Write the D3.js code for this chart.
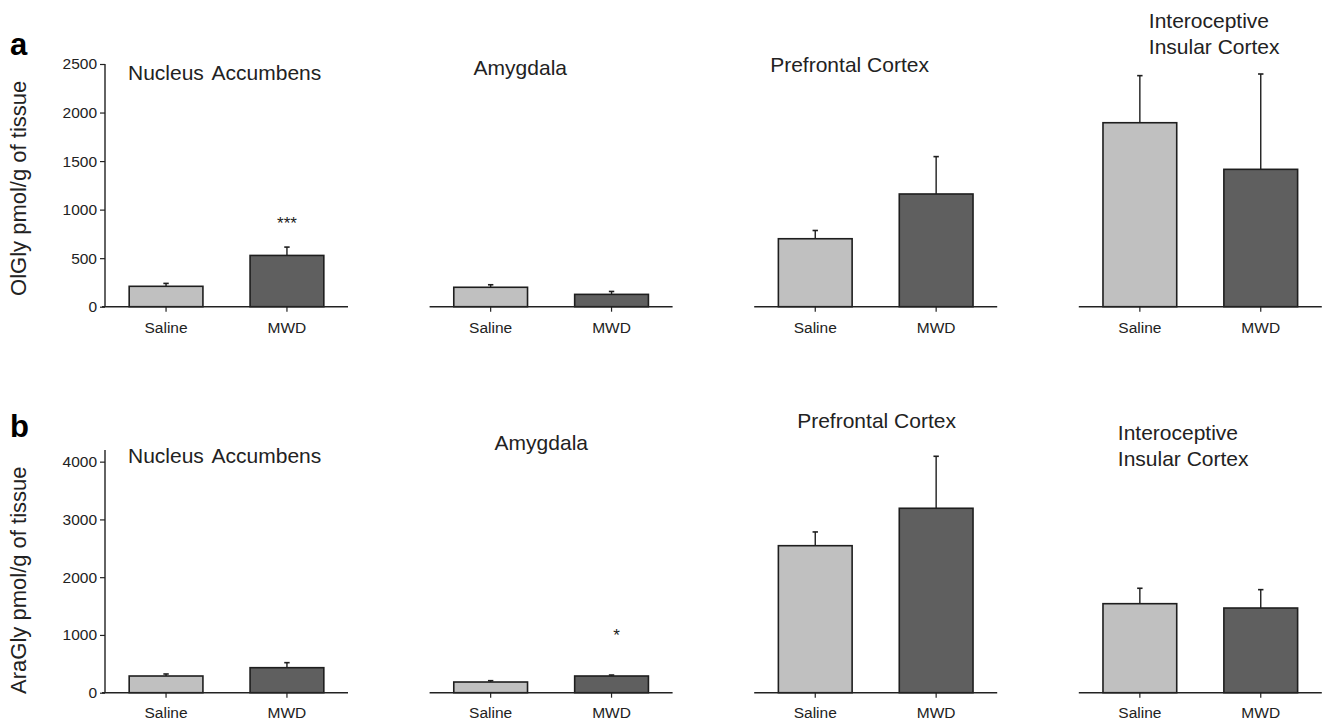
<!DOCTYPE html>
<html>
<head>
<meta charset="utf-8">
<script src="https://cdn.jsdelivr.net/npm/d3@7"></script>
<style>
  html, body { margin: 0; padding: 0; background: #fff; }
  svg { display: block; font-family: Arial, "Liberation Sans", sans-serif; }
</style>
</head>
<body>
<svg id="chart" width="1323" height="721"></svg>
<script>
// Brain regions and treatment groups
const regions = ["Nucleus Accumbens", "Amygdala", "Prefrontal Cortex", "Interoceptive Insular Cortex"];
const groups = ["Saline", "MWD"];

// Row a: OlGly (pmol/g of tissue), mean and SEM per region
const olgSalineMean = [210, 200, 700, 1895];
const olgSalineSem  = [30, 26, 85, 485];
const olgMwdMean    = [528, 127, 1161, 1415];
const olgMwdSem     = [86, 30, 385, 982];
const olgMarks      = ["***", "", "", ""];   // significance over MWD bar

// Row b: AraGly (pmol/g of tissue), mean and SEM per region
const araSalineMean = [289, 185, 2545, 1541];
const araSalineSem  = [35, 23, 238, 267];
const araMwdMean    = [433, 289, 3193, 1466];
const araMwdSem     = [87, 17, 900, 318];
const araMarks      = ["", "*", "", ""];

// Axis ticks
const olgTicks = [0, 500, 1000, 1500, 2000, 2500];
const araTicks = [0, 1000, 2000, 3000, 4000];

// ---- layout ----
const svg = d3.select("#chart");
const panelX0 = 105, panelStep = 324.6, panelW = 243;
const colors = { Saline: "#c0c0c0", MWD: "#5f5f5f" };
const strokeCol = "#1e1e1e";

const rows = [
  {
    letter: "a", letterY: 55,
    yLabel: "OlGly pmol/g of tissue",
    domain: [0, 2500], range: [306.7, 64], ticks: olgTicks,
    saline: olgSalineMean, salineSem: olgSalineSem,
    mwd: olgMwdMean, mwdSem: olgMwdSem, marks: olgMarks,
    // title placement per panel: x offset from panel start, first baseline
    titles: [[23, 80], [44, 75], [16, 72], [70, 28]],
    markY: [229, 0, 0, 0], markDx: [0, 0, 0, 0],
    labelY: 333
  },
  {
    letter: "b", letterY: 437,
    yLabel: "AraGly pmol/g of tissue",
    domain: [0, 4200], range: [692.7, 450.1], ticks: araTicks,
    saline: araSalineMean, salineSem: araSalineSem,
    mwd: araMwdMean, mwdSem: araMwdSem, marks: araMarks,
    titles: [[23, 463], [65, 450], [43, 428], [39, 440]],
    markY: [0, 641, 0, 0], markDx: [0, 5, 0, 0],
    labelY: 718
  }
];

const titleLines = name => name === "Interoceptive Insular Cortex"
  ? ["Interoceptive", "Insular Cortex"] : [name];

rows.forEach(row => {
  const y = d3.scaleLinear().domain(row.domain).range(row.range);
  const base = y(0);

  // panel letter
  svg.append("text")
    .attr("x", 10).attr("y", row.letterY)
    .attr("font-size", 31).attr("font-weight", "bold").attr("fill", "#000")
    .text(row.letter);

  // y axis title
  const yMid = (y(0) + y(row.ticks[row.ticks.length - 1])) / 2 + 3;
  svg.append("text")
    .attr("transform", `translate(26,${yMid}) rotate(-90)`)
    .attr("text-anchor", "middle")
    .attr("font-size", 22).attr("fill", "#222")
    .text(row.yLabel);

  // y axis (first panel only)
  const yAxis = svg.append("g")
    .attr("transform", `translate(${panelX0},0)`)
    .call(d3.axisLeft(y).tickValues(row.ticks).tickSize(5).tickPadding(3).tickFormat(d3.format("d")));
  yAxis.select(".domain")
    .attr("d", `M0,${y(row.domain[1])}V${base}`)
    .attr("stroke", "#222").attr("stroke-width", 1.4);
  yAxis.selectAll(".tick line").attr("stroke", "#222").attr("stroke-width", 1.2);
  yAxis.selectAll(".tick text").attr("font-size", 15.5).attr("fill", "#222")
    .attr("font-family", "Arial, 'Liberation Sans', sans-serif");

  regions.forEach((reg, i) => {
    const px = panelX0 + i * panelStep;
    const x = d3.scaleBand().domain(groups).range([px, px + panelW])
      .paddingInner(0.39).paddingOuter(0.2);

    const data = [
      { g: "Saline", v: row.saline[i], e: row.salineSem[i] },
      { g: "MWD", v: row.mwd[i], e: row.mwdSem[i] }
    ];

    const g = svg.append("g");

    // error bars (upper only)
    data.forEach(d => {
      const cx = x(d.g) + x.bandwidth() / 2;
      g.append("line")
        .attr("x1", cx).attr("x2", cx)
        .attr("y1", y(d.v)).attr("y2", y(d.v + d.e))
        .attr("stroke", strokeCol).attr("stroke-width", 1.4);
      g.append("line")
        .attr("x1", cx - 2.7).attr("x2", cx + 2.7)
        .attr("y1", y(d.v + d.e)).attr("y2", y(d.v + d.e))
        .attr("stroke", strokeCol).attr("stroke-width", 1.6);
    });

    // bars
    g.selectAll("rect").data(data).join("rect")
      .attr("x", d => x(d.g))
      .attr("y", d => y(d.v))
      .attr("width", x.bandwidth())
      .attr("height", d => base - y(d.v))
      .attr("fill", d => colors[d.g])
      .attr("stroke", strokeCol).attr("stroke-width", 1.6);

    // x axis
    const xAxis = svg.append("g")
      .attr("transform", `translate(0,${base})`)
      .call(d3.axisBottom(x).tickSize(5).tickPadding(6));
    xAxis.select(".domain")
      .attr("d", `M${i === 0 ? px - 3 : px},0H${px + panelW}`)
      .attr("stroke", "#222").attr("stroke-width", 1.4);
    xAxis.selectAll(".tick line").attr("stroke", "#222").attr("stroke-width", 1.2);
    xAxis.selectAll(".tick text").remove();
    groups.forEach(gr => {
      svg.append("text")
        .attr("x", x(gr) + x.bandwidth() / 2).attr("y", row.labelY)
        .attr("text-anchor", "middle").attr("font-size", 15.5).attr("fill", "#222")
        .text(gr);
    });

    // panel title
    const [tdx, tby] = row.titles[i];
    titleLines(reg).forEach((line, k) => {
      svg.append("text")
        .attr("x", px + tdx).attr("y", tby + k * 26)
        .attr("font-size", 21).attr("fill", "#222")
        .attr("word-spacing", reg === "Nucleus Accumbens" ? 3 : 0)
        .text(line);
    });

    // significance marks
    if (row.marks[i]) {
      svg.append("text")
        .attr("x", x("MWD") + x.bandwidth() / 2 + row.markDx[i])
        .attr("y", row.markY[i])
        .attr("text-anchor", "middle").attr("font-size", 17).attr("fill", "#222")
        .text(row.marks[i]);
    }
  });
});
</script>
</body>
</html>
